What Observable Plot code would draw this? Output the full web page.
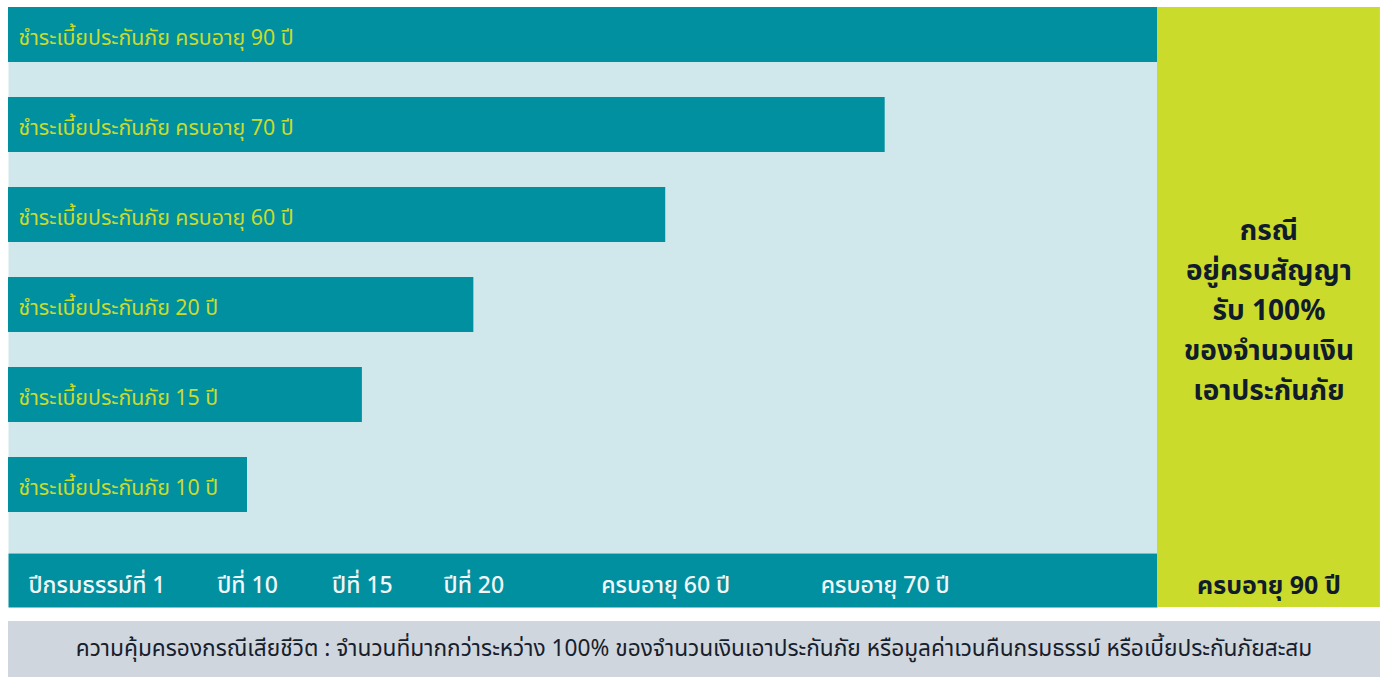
<!DOCTYPE html>
<html>
<head>
<meta charset="utf-8">
<script src="https://cdn.jsdelivr.net/npm/d3@7"></script>
<script src="https://cdn.jsdelivr.net/npm/@observablehq/plot@0.6"></script>
<style>
  html, body { margin: 0; padding: 0; background: #ffffff; overflow: hidden; }
  body { font-family: "Noto Sans Thai", "Noto Sans", sans-serif; }
  #caption {
    margin: 7px 3px 0 8px;
    height: 56px;
    background: #d0d6de;
    color: #16202c;
    font-size: 22.7px;
    display: flex; align-items: center; justify-content: center;
  }
</style>
</head>
<body>
<div id="chart"></div>
<div id="caption"></div>
<script>
// ---- data ----
const categories = [
  "ชำระเบี้ยประกันภัย ครบอายุ 90 ปี",
  "ชำระเบี้ยประกันภัย ครบอายุ 70 ปี",
  "ชำระเบี้ยประกันภัย ครบอายุ 60 ปี",
  "ชำระเบี้ยประกันภัย 20 ปี",
  "ชำระเบี้ยประกันภัย 15 ปี",
  "ชำระเบี้ยประกันภัย 10 ปี"
];
// bar length as % of the full (age 90) timeline
const barLengths = [100, 76.3, 57.2, 40.5, 30.8, 20.8];
const tickLabels = ["ปีกรมธรรม์ที่ 1", "ปีที่ 10", "ปีที่ 15", "ปีที่ 20", "ครบอายุ 60 ปี", "ครบอายุ 70 ปี"];
const tickValues = [0, 20.8, 30.8, 40.5, 57.2, 76.3];
const maturityLabel = ["ครบอายุ 90 ปี"];
const maturityNote = ["กรณี\nอยู่ครบสัญญา\nรับ 100%\nของจำนวนเงิน\nเอาประกันภัย"];
const captionText = "ความคุ้มครองกรณีเสียชีวิต : จำนวนที่มากกว่าระหว่าง 100% ของจำนวนเงินเอาประกันภัย หรือมูลค่าเวนคืนกรมธรรม์ หรือเบี้ยประกันภัยสะสม";
const panelEnd = 119.4;   // right edge of the maturity panel on the same scale
const panelMid = 109.7;

// ---- styles ----
const teal = "#0190a0";
const lightBlue = "#d0e8ec";
const lime = "#cbdb2c";
const dark = "#101c2c";

const bars = categories.map((c, i) => ({category: c, value: barLengths[i]}));
const ticks = tickLabels.map((t, i) => ({label: t, value: tickValues[i]}));
const firstTick = ticks.slice(0, 1);
const otherTicks = ticks.slice(1);

const chart = Plot.plot({
  width: 1383,
  height: 614,
  marginLeft: 8,
  marginRight: 226,
  marginTop: 7,
  marginBottom: 61,
  style: {fontFamily: '"Noto Sans Thai", "Noto Sans", sans-serif', background: "transparent"},
  x: {domain: [0, 100], axis: null},
  y: {type: "band", domain: categories, paddingInner: 0.391, paddingOuter: 0.219, align: 0, axis: null},
  marks: [
    Plot.frame({fill: lightBlue, stroke: null}),
    Plot.frame({fill: teal, stroke: null, insetTop: 546, insetBottom: -54}),
    Plot.rect([0], {x1: () => 100, x2: () => panelEnd, fill: lime, insetBottom: -54}),
    Plot.barX(bars, {x: "value", y: "category", fill: teal}),
    Plot.text(bars, {x: () => 0, y: "category", text: "category", textAnchor: "start", dx: 10, dy: 3, fill: lime, fontSize: 21.3}),
    Plot.text(firstTick, {
      x: "value", text: "label", frameAnchor: "bottom", lineAnchor: "middle", dy: 32, dx: 20,
      textAnchor: "start", fill: "#f2f6f7", fontSize: 23, fontWeight: 500
    }),
    Plot.text(otherTicks, {
      x: "value", text: "label", frameAnchor: "bottom", lineAnchor: "middle", dy: 32,
      textAnchor: "middle", fill: "#f2f6f7", fontSize: 23, fontWeight: 500
    }),
    Plot.text(maturityLabel, {x: () => panelMid, text: d => d, frameAnchor: "bottom", lineAnchor: "middle", dy: 32, fill: dark, fontSize: 25, fontWeight: 700}),
    Plot.text(maturityNote, {x: () => panelMid, text: d => d, frameAnchor: "middle", dy: 27, fill: dark, fontSize: 28, fontWeight: 700, lineHeight: 1.43})
  ]
});
document.getElementById("chart").appendChild(chart);
document.getElementById("caption").textContent = captionText;
</script>
</body>
</html>
